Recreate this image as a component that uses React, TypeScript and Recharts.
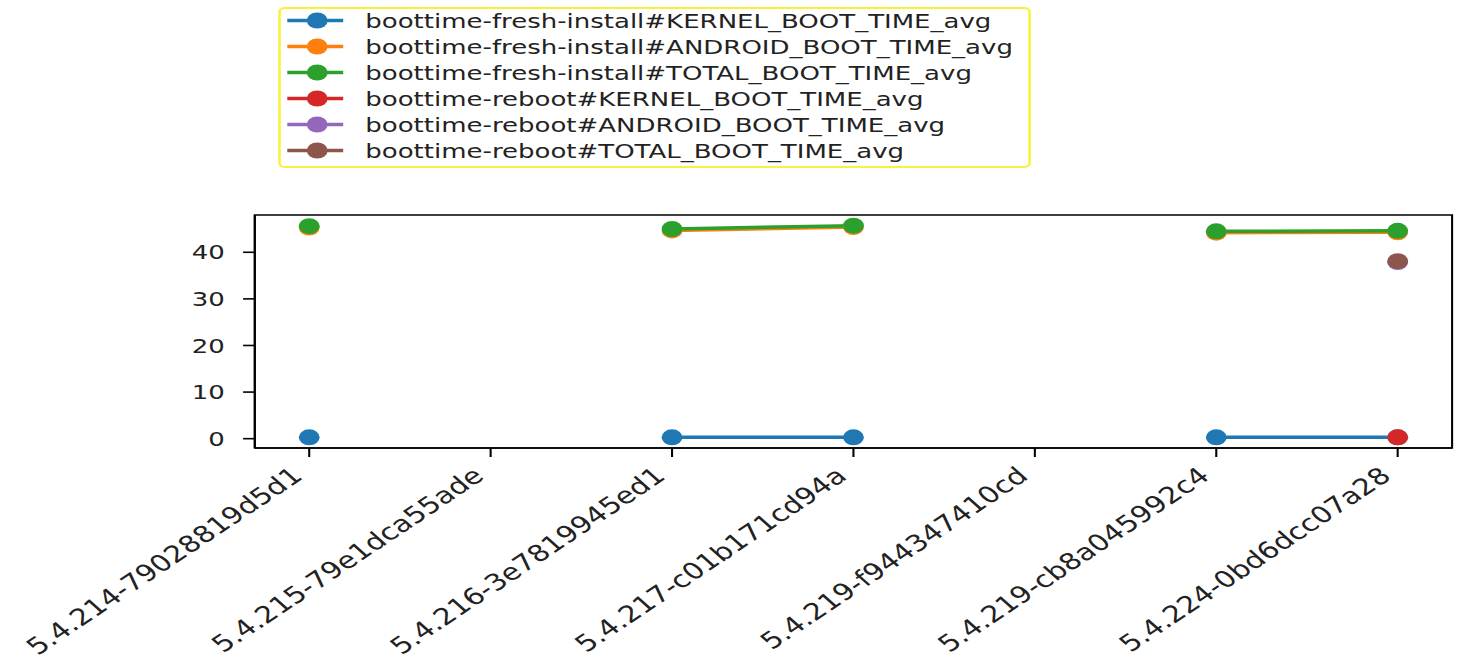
import React from 'react';
import { LineChart, Line, XAxis, YAxis, Legend, ReferenceArea } from 'recharts';

const categories = [
  '5.4.214-79028819d5d1',
  '5.4.215-79e1dca55ade',
  '5.4.216-3e7819945ed1',
  '5.4.217-c01b171cd94a',
  '5.4.219-f944347410cd',
  '5.4.219-cb8a045992c4',
  '5.4.224-0bd6dcc07a28',
];

const freshKernel = [0.3, null, 0.3, 0.3, null, 0.3, 0.3];
const freshAndroid = [45.3, null, 44.7, 45.4, null, 44.2, 44.3];
const freshTotal = [45.6, null, 45.0, 45.7, null, 44.5, 44.6];
const rebootKernel = [null, null, null, null, null, null, 0.3];
const rebootAndroid = [null, null, null, null, null, null, 37.9];
const rebootTotal = [null, null, null, null, null, null, 38.1];

const yTicks = [0, 10, 20, 30, 40];
const xTicks = categories.map((_, i) => i);

const series = [
  { key: 'fk', name: 'boottime-fresh-install#KERNEL_BOOT_TIME_avg', color: '#1f77b4', values: freshKernel },
  { key: 'fa', name: 'boottime-fresh-install#ANDROID_BOOT_TIME_avg', color: '#ff7f0e', values: freshAndroid },
  { key: 'ft', name: 'boottime-fresh-install#TOTAL_BOOT_TIME_avg', color: '#2ca02c', values: freshTotal },
  { key: 'rk', name: 'boottime-reboot#KERNEL_BOOT_TIME_avg', color: '#d62728', values: rebootKernel },
  { key: 'ra', name: 'boottime-reboot#ANDROID_BOOT_TIME_avg', color: '#9467bd', values: rebootAndroid },
  { key: 'rt', name: 'boottime-reboot#TOTAL_BOOT_TIME_avg', color: '#8c564b', values: rebootTotal },
];

const data = categories.map((c, i) => {
  const row: any = { idx: i, name: c };
  series.forEach((s) => {
    row[s.key] = s.values[i];
  });
  return row;
});

const FONT = '"DejaVu Sans", sans-serif';

const XTick = (props: any) => {
  const { x, y, payload } = props;
  const label = categories[payload.value] ?? '';
  return (
    <g transform={`translate(${x - 4},${y + 19})`}>
      <text x={0} y={0} textAnchor="end" transform="rotate(-41)" fontSize={23} fill="#222" fontFamily={FONT}>
        {label}
      </text>
    </g>
  );
};

const LegendBox = () => {
  return (
    <svg width={579} height={161} style={{ display: 'block', overflow: 'visible' }}>
      <rect x={1} y={1} width={577} height={159} rx={4} ry={4} fill="#fff" stroke="#f8f23a" strokeWidth={2} />
      {series.map((s, i) => {
        const cy = 13.5 + 26 * i;
        return (
          <g key={s.key}>
            <line x1={7} x2={50} y1={cy} y2={cy} stroke={s.color} strokeWidth={3.5} />
            <circle cx={30} cy={cy} r={8} fill={s.color} />
            <text x={67} y={cy} dy="0.36em" fontSize={20} fill="#222" fontFamily={FONT}>
              {s.name}
            </text>
          </g>
        );
      })}
    </svg>
  );
};

export default function App() {
  return (
    <div
      style={{
        position: 'absolute',
        left: 0,
        top: 0,
        width: 1128,
        height: 662,
        transform: 'scaleX(1.3)',
        transformOrigin: '0 0',
        background: '#fff',
      }}
    >
      <LineChart width={1128} height={662} data={data} margin={{ top: 215, right: 11, left: 0, bottom: 0 }}>
        <XAxis
          dataKey="idx"
          type="number"
          domain={[-0.3, 6.3]}
          ticks={xTicks}
          interval={0}
          height={214}
          tickSize={9}
          tickMargin={2}
          tick={<XTick />}
          axisLine={{ stroke: '#000', strokeWidth: 1.6 }}
          tickLine={{ stroke: '#000', strokeWidth: 1.6 }}
          allowDataOverflow
        />
        <YAxis
          type="number"
          domain={[-2, 48]}
          ticks={yTicks}
          width={196}
          tickSize={9}
          tickMargin={14}
          tick={{ fontSize: 20, fill: '#222', fontFamily: FONT }}
          axisLine={{ stroke: '#000', strokeWidth: 1.6 }}
          tickLine={{ stroke: '#000', strokeWidth: 1.6 }}
          allowDataOverflow
        />
        <ReferenceArea x1={-0.3} x2={6.3} y1={-2} y2={48} fill="none" stroke="#000" strokeWidth={1.6} />
        <Legend
          layout="vertical"
          align="center"
          verticalAlign="middle"
          content={<LegendBox />}
          wrapperStyle={{ position: 'absolute', left: 214, top: 7, width: 579, height: 161 }}
        />
        {series.map((s) => (
          <Line
            key={s.key}
            dataKey={s.key}
            name={s.name}
            stroke={s.color}
            strokeWidth={3.5}
            dot={{ r: 8, fill: s.color, stroke: s.color, strokeWidth: 0 }}
            activeDot={false}
            connectNulls={false}
            isAnimationActive={false}
          />
        ))}
      </LineChart>
    </div>
  );
}
